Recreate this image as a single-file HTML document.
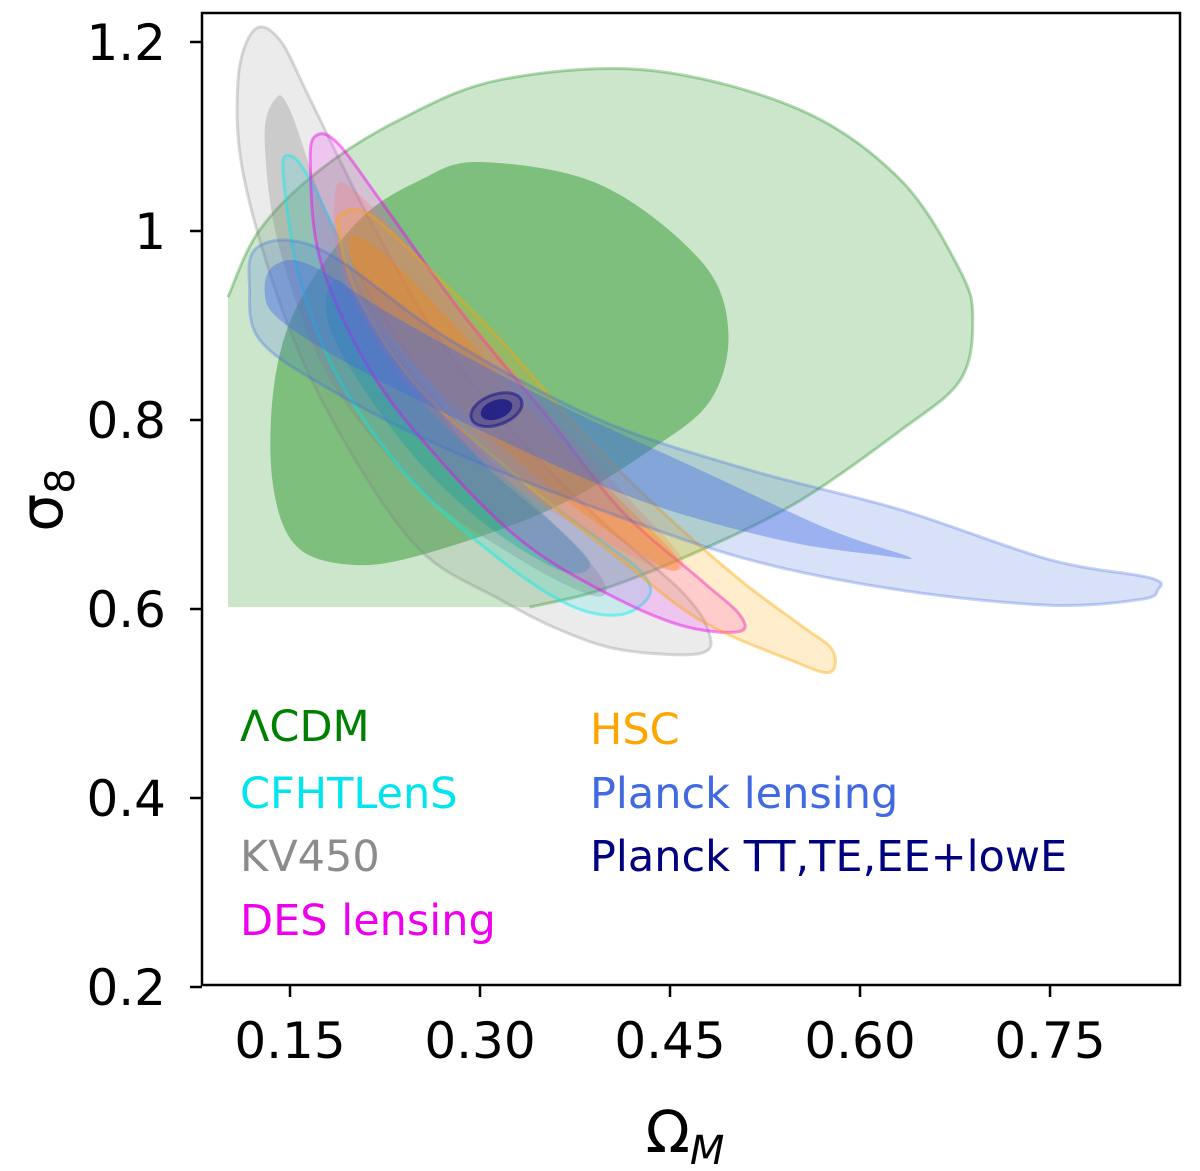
<!DOCTYPE html>
<html><head><meta charset="utf-8"><style>
body{margin:0;background:#fff}
svg{display:block;font-family:"DejaVu Sans","Liberation Sans",sans-serif}
</style></head><body>
<svg id="chart" width="1200" height="1171" viewBox="0 0 1200 1171" xmlns="http://www.w3.org/2000/svg">
<defs><clipPath id="clip"><rect x="202" y="13" width="978" height="972"/></clipPath></defs>
<g id="marks" clip-path="url(#clip)"></g>
<rect x="202" y="13" width="978" height="972" fill="none" stroke="#000" stroke-width="2.5"/>
<g id="axes"></g>
<text x="685" y="1152" font-size="58" text-anchor="middle">Ω<tspan font-style="italic" font-size="40" dy="12">M</tspan></text>
<text transform="translate(62,500) rotate(-90)" font-size="60" text-anchor="middle">σ<tspan font-size="40" dy="12">8</tspan></text>
<g font-size="43">
<text x="240" y="741" fill="#008000">ΛCDM</text>
<text x="240" y="808" fill="#00e5ee">CFHTLenS</text>
<text x="240" y="871" fill="#8c8c8c">KV450</text>
<text x="240" y="935" fill="#ee00ee">DES lensing</text>
<text x="590" y="744" fill="#ffa500">HSC</text>
<text x="590" y="808" fill="#4169e1">Planck lensing</text>
<text x="590" y="871" fill="#000080">Planck TT,TE,EE+lowE</text>
</g>
</svg>
<script>
const xTicks=[0.15,0.30,0.45,0.60,0.75];
const xTickLabels=["0.15","0.30","0.45","0.60","0.75"];
const yTicks=[0.2,0.4,0.6,0.8,1.0,1.2];
const yTickLabels=["0.2","0.4","0.6","0.8","1","1.2"];
const lcdmOuterCurve=[[0.101,0.930],[0.126,1.001],[0.174,1.065],[0.237,1.118],[0.316,1.160],[0.434,1.170],[0.553,1.128],[0.632,1.054],[0.679,0.958],[0.689,0.906],[0.679,0.842],[0.632,0.789],[0.553,0.715],[0.474,0.662],[0.395,0.620],[0.339,0.602]];
const lcdmOuterCorner=[0.101,0.602];
const lcdmInner=[[0.300,1.073],[0.395,1.049],[0.474,0.969],[0.496,0.895],[0.482,0.821],[0.434,0.768],[0.355,0.705],[0.253,0.657],[0.197,0.647],[0.154,0.668],[0.136,0.737],[0.138,0.842],[0.158,0.927],[0.205,1.012],[0.253,1.054]];
const kvOuter=[[0.122,1.213],[0.109,1.160],[0.114,1.054],[0.150,0.895],[0.197,0.768],[0.253,0.662],[0.316,0.610],[0.363,0.578],[0.411,0.557],[0.474,0.553],[0.480,0.578],[0.458,0.620],[0.395,0.694],[0.332,0.779],[0.268,0.885],[0.213,1.012],[0.166,1.139],[0.142,1.202]];
const kvInner=[[0.138,1.139],[0.130,1.096],[0.142,0.980],[0.182,0.842],[0.253,0.726],[0.332,0.652],[0.387,0.615],[0.399,0.625],[0.371,0.673],[0.300,0.768],[0.237,0.885],[0.182,1.012],[0.150,1.128]];
const cfhtOuter=[[0.148,1.080],[0.145,1.054],[0.158,0.948],[0.189,0.842],[0.245,0.737],[0.316,0.652],[0.371,0.604],[0.411,0.594],[0.434,0.615],[0.426,0.641],[0.395,0.673],[0.332,0.737],[0.268,0.821],[0.213,0.927],[0.166,1.054]];
const cfhtInner=[[0.182,0.895],[0.237,0.779],[0.300,0.694],[0.363,0.641],[0.387,0.647],[0.363,0.684],[0.300,0.758],[0.237,0.864],[0.189,0.948]];
const desOuter=[[0.172,1.102],[0.166,1.075],[0.174,0.969],[0.213,0.853],[0.268,0.758],[0.332,0.673],[0.395,0.620],[0.458,0.583],[0.504,0.576],[0.505,0.594],[0.474,0.631],[0.411,0.705],[0.355,0.800],[0.284,0.916],[0.221,1.033],[0.189,1.091]];
const desInner=[[0.186,1.044],[0.193,0.948],[0.253,0.821],[0.332,0.726],[0.411,0.662],[0.450,0.641],[0.458,0.657],[0.411,0.726],[0.332,0.843],[0.253,0.969],[0.205,1.038]];
const hscOuter=[[0.193,1.020],[0.188,1.001],[0.205,0.927],[0.253,0.832],[0.332,0.737],[0.411,0.652],[0.474,0.588],[0.545,0.546],[0.576,0.533],[0.578,0.557],[0.553,0.583],[0.505,0.631],[0.442,0.705],[0.379,0.789],[0.316,0.885],[0.253,0.969],[0.213,1.017]];
const hscInner=[[0.197,0.990],[0.213,0.916],[0.268,0.832],[0.347,0.737],[0.411,0.673],[0.450,0.641],[0.454,0.657],[0.411,0.715],[0.347,0.800],[0.276,0.906],[0.221,0.980]];
const plOuter=[[0.118,0.943],[0.122,0.980],[0.150,0.990],[0.189,0.969],[0.276,0.885],[0.395,0.800],[0.513,0.747],[0.632,0.705],[0.750,0.652],[0.829,0.633],[0.835,0.620],[0.821,0.610],[0.750,0.604],[0.632,0.620],[0.513,0.652],[0.395,0.705],[0.276,0.768],[0.182,0.832],[0.126,0.885]];
const plInner=[[0.130,0.937],[0.138,0.964],[0.166,0.964],[0.237,0.906],[0.355,0.821],[0.474,0.747],[0.576,0.684],[0.639,0.655],[0.615,0.657],[0.537,0.673],[0.426,0.715],[0.316,0.779],[0.205,0.853],[0.142,0.906]];
const planckCenter=[0.313,0.811];
const planckOuterRadii=[0.021,0.016];
const planckInnerRadii=[0.013,0.010];

const X=v=>290+(v-0.15)*1266.7;
const Y=v=>231-(v-1.0)*945;
const NS="http://www.w3.org/2000/svg";
const marks=document.getElementById('marks');
const axes=document.getElementById('axes');
function curve(pts,closed){
  const p=pts.map(d=>[X(d[0]),Y(d[1])]);const n=p.length;
  const g=i=>closed?p[(i+n)%n]:p[Math.max(0,Math.min(n-1,i))];
  let s=`M${p[0][0]},${p[0][1]}`;
  const segs=closed?n:n-1;
  for(let i=0;i<segs;i++){
    const p0=g(i-1),p1=g(i),p2=g(i+1),p3=g(i+2);
    const c1=[p1[0]+(p2[0]-p0[0])/6,p1[1]+(p2[1]-p0[1])/6];
    const c2=[p2[0]-(p3[0]-p1[0])/6,p2[1]-(p3[1]-p1[1])/6];
    s+=`C${c1[0]},${c1[1]} ${c2[0]},${c2[1]} ${p2[0]},${p2[1]}`;
  }
  return closed?s+'Z':s;
}
function addPath(d,fill,stroke,name){
  const el=document.createElementNS(NS,'path');
  el.setAttribute('d',d);
  el.setAttribute('fill',fill);
  el.setAttribute('stroke',stroke);
  el.setAttribute('stroke-width','3');
  
  
  marks.appendChild(el);
}
function contour(pts,fill,stroke,name){addPath(curve(pts,true),fill,stroke,name);}
const lcdmOpen=curve(lcdmOuterCurve,false);
addPath(lcdmOpen+`L${X(lcdmOuterCorner[0])},${Y(lcdmOuterCorner[1])}Z`,'rgba(0,128,0,0.2)','none','lcdm-contour-outer');
addPath(lcdmOpen,'none','rgba(0,128,0,0.3)','lcdm-contour-outer-edge');
contour(lcdmInner,'rgba(0,128,0,0.38)','none','lcdm-contour-inner');
contour(kvOuter,'rgba(128,128,128,0.16)','rgba(128,128,128,0.3)','kv450-contour-outer');
contour(kvInner,'rgba(128,128,128,0.3)','none','kv450-contour-inner');
contour(cfhtOuter,'rgba(0,230,230,0.15)','rgba(0,240,240,0.45)','cfhtlens-contour-outer');
contour(cfhtInner,'rgba(0,160,160,0.3)','none','cfhtlens-contour-inner');
contour(desOuter,'rgba(255,0,255,0.16)','rgba(240,0,240,0.45)','des-contour-outer');
contour(desInner,'rgba(255,110,110,0.25)','none','des-contour-inner');
contour(hscOuter,'rgba(255,165,0,0.2)','rgba(255,165,0,0.4)','hsc-contour-outer');
contour(hscInner,'rgba(255,130,0,0.3)','none','hsc-contour-inner');
contour(plOuter,'rgba(65,105,225,0.2)','rgba(65,105,225,0.3)','planck-lensing-contour-outer');
contour(plInner,'rgba(65,105,225,0.4)','none','planck-lensing-contour-inner');
[[planckOuterRadii,'rgba(0,0,128,0.25)','rgba(0,0,128,0.45)','planck-tt-contour-outer'],[planckInnerRadii,'rgba(0,0,128,0.6)','none','planck-tt-contour-inner']].forEach(c=>{
  const el=document.createElementNS(NS,'ellipse');
  const cx=X(planckCenter[0]),cy=Y(planckCenter[1]);
  el.setAttribute('cx',cx);el.setAttribute('cy',cy);
  el.setAttribute('rx',X(planckCenter[0]+c[0][0])-cx);
  el.setAttribute('ry',Y(planckCenter[1])-Y(planckCenter[1]+c[0][1]));
  el.setAttribute('transform',`rotate(-20 ${cx} ${cy})`);
  el.setAttribute('fill',c[1]);el.setAttribute('stroke',c[2]);el.setAttribute('stroke-width','3');
  
  
  marks.appendChild(el);
});
xTicks.forEach((v,i)=>{
  const l=document.createElementNS(NS,'line');
  l.setAttribute('x1',X(v));l.setAttribute('x2',X(v));l.setAttribute('y1',985);l.setAttribute('y2',997);
  l.setAttribute('stroke','#000');l.setAttribute('stroke-width','2.5');
  
  
  axes.appendChild(l);
  const t=document.createElementNS(NS,'text');
  t.setAttribute('x',X(v));t.setAttribute('y',1058);t.setAttribute('font-size','50');t.setAttribute('text-anchor','middle');
  t.textContent=xTickLabels[i];
  
  
  axes.appendChild(t);
});
yTicks.forEach((v,i)=>{
  const l=document.createElementNS(NS,'line');
  l.setAttribute('x1',190);l.setAttribute('x2',202);l.setAttribute('y1',Y(v));l.setAttribute('y2',Y(v));
  l.setAttribute('stroke','#000');l.setAttribute('stroke-width','2.5');
  
  
  axes.appendChild(l);
  const t=document.createElementNS(NS,'text');
  t.setAttribute('x',166);t.setAttribute('y',Y(v)+18);t.setAttribute('font-size','50');t.setAttribute('text-anchor','end');
  t.textContent=yTickLabels[i];
  
  
  axes.appendChild(t);
});
</script>
</body></html>
